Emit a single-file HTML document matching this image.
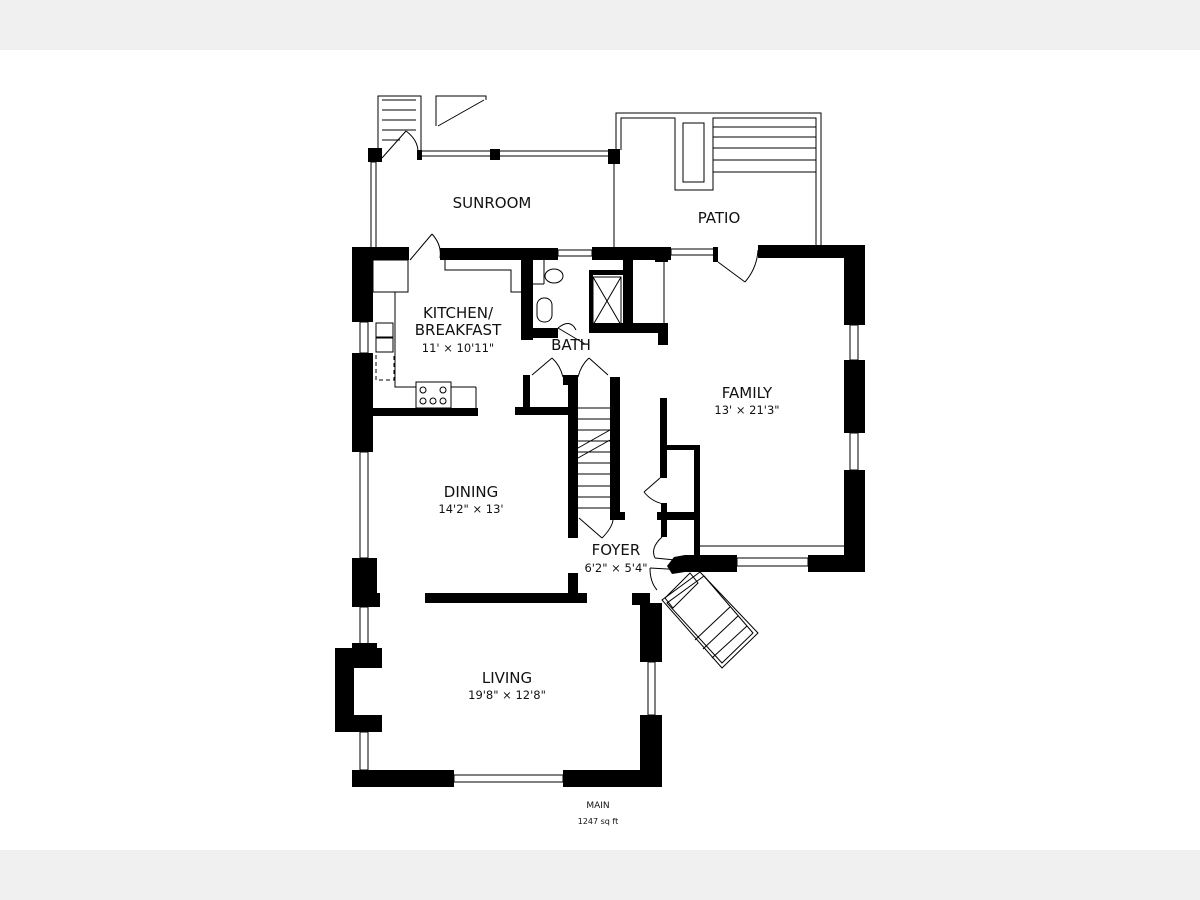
<!DOCTYPE html>
<html><head><meta charset="utf-8"><style>
html,body{margin:0;padding:0;width:1200px;height:900px;overflow:hidden;background:#fff}
svg{display:block}
text{font-family:"DejaVu Sans","Liberation Sans",sans-serif;fill:#111;text-anchor:middle}
.r{font-size:15px}
.d{font-size:11.5px}
</style></head><body>
<svg width="1200" height="900" viewBox="0 0 1200 900" xmlns="http://www.w3.org/2000/svg">
<rect x="0" y="0" width="1200" height="50" fill="#f0f0f0"/>
<rect x="0" y="850" width="1200" height="50" fill="#f0f0f0"/>

<g fill="none" stroke="#000" stroke-width="1">
 <rect x="420" y="151" width="190" height="5"/>
 <rect x="371" y="162" width="5" height="86"/>
 <line x1="614" y1="164" x2="614" y2="248"/>
 <polyline points="616,150 616,113 821,113 821,247"/>
 <polyline points="621,150 621,118 675,118 675,190 713,190 713,118 816,118 816,247"/>
 <rect x="683" y="123" width="21" height="59"/>
 <line x1="713" y1="127" x2="816" y2="127"/>
 <line x1="713" y1="137" x2="816" y2="137"/>
 <line x1="713" y1="148" x2="816" y2="148"/>
 <line x1="713" y1="160" x2="816" y2="160"/>
 <line x1="713" y1="172" x2="816" y2="172"/>
 <polyline points="378,153 378,96 421,96 421,150"/>
 <line x1="382" y1="100" x2="416" y2="100"/>
 <line x1="382" y1="110" x2="416" y2="110"/>
 <line x1="382" y1="120" x2="416" y2="120"/>
 <line x1="382" y1="130" x2="416" y2="130"/>
 <line x1="382" y1="140" x2="400" y2="140"/>
 <line x1="382" y1="158" x2="406" y2="131"/>
 <path d="M406,131 Q418,140 418,152"/>
 <polyline points="436,126 436,96 486,96 486,100"/>
 <line x1="438" y1="126" x2="484" y2="100"/>
 <rect x="558" y="250" width="34" height="6"/>
 <rect x="671" y="249" width="43" height="6"/>
 <line x1="664" y1="262" x2="664" y2="328"/>
 <rect x="360" y="322" width="8" height="31"/>
 <rect x="360" y="452" width="8" height="106"/>
 <rect x="360" y="607" width="8" height="38"/>
 <rect x="360" y="732" width="8" height="38"/>
 <rect x="454" y="775" width="109" height="7"/>
 <rect x="648" y="662" width="7" height="53"/>
 <rect x="850" y="325" width="8" height="35"/>
 <rect x="850" y="433" width="8" height="37"/>
 <rect x="737" y="558" width="71" height="8"/>
 <line x1="700" y1="546" x2="844" y2="546"/>
 <rect x="373" y="260" width="35" height="32"/>
 <polyline points="445,260 445,270 511,270 511,292 521,292"/>
 <polyline points="395,292 395,387 416,387"/>
 <line x1="451" y1="387" x2="476" y2="387"/>
 <line x1="476" y1="387" x2="476" y2="408"/>
 <rect x="416" y="382" width="35" height="26"/>
 <circle cx="423" cy="390" r="3"/><circle cx="443" cy="390" r="3"/>
 <circle cx="423" cy="401" r="3"/><circle cx="433" cy="401" r="3"/><circle cx="443" cy="401" r="3"/>
 <rect x="376" y="323" width="17" height="14"/>
 <rect x="376" y="338" width="17" height="14"/>
 <polyline points="376,355 376,380 394,380 394,355" stroke-dasharray="4,3"/>
 <ellipse cx="554" cy="276" rx="9" ry="7"/>
 <rect x="537" y="298" width="15" height="24" rx="7"/>
 <rect x="593" y="277" width="28" height="48"/>
 <line x1="593" y1="277" x2="621" y2="325"/><line x1="621" y1="277" x2="593" y2="325"/>
 <line x1="533" y1="284" x2="544" y2="284"/>
 <line x1="544" y1="260" x2="544" y2="284"/>
 <line x1="410" y1="260" x2="432" y2="234"/><path d="M432,234 Q442,245 440,258"/>
 <line x1="558" y1="328" x2="585" y2="344"/><path d="M558,328 Q570,318 576,330"/>
 <line x1="718" y1="262" x2="745" y2="282"/><path d="M745,282 Q757,268 758,250"/>
 <line x1="532" y1="375" x2="552" y2="358"/><path d="M552,358 Q560,365 563,377"/>
 <line x1="608" y1="375" x2="589" y2="358"/><path d="M589,358 Q581,365 578,377"/>
 <line x1="579" y1="518" x2="602" y2="538"/><path d="M602,538 Q612,528 613,520"/>
 <line x1="660" y1="478" x2="644" y2="492"/><path d="M644,492 Q652,502 664,504"/>
 <line x1="655" y1="558" x2="685" y2="561"/><path d="M662,537 Q650,548 655,558"/>
 <line x1="650" y1="568" x2="685" y2="570"/><path d="M650,568 Q650,582 657,590"/>
 <line x1="578" y1="408" x2="610" y2="408"/>
 <line x1="578" y1="419" x2="610" y2="419"/>
 <line x1="578" y1="430" x2="610" y2="430"/>
 <line x1="578" y1="441" x2="610" y2="441"/>
 <line x1="578" y1="452" x2="610" y2="452"/>
 <line x1="578" y1="463" x2="610" y2="463"/>
 <line x1="578" y1="474" x2="610" y2="474"/>
 <line x1="578" y1="486" x2="610" y2="486"/>
 <line x1="578" y1="497" x2="610" y2="497"/>
 <line x1="578" y1="508" x2="610" y2="508"/>
 <line x1="578" y1="448" x2="610" y2="430"/>
 <line x1="578" y1="458" x2="610" y2="440"/>
 <!-- entry stair -->
 <polygon points="700,572 758,633 722,668 662,600"/>
 <polygon points="704,576 753,633 722,663 667,603"/>
 <polygon points="665,598 690,573 698,583 673,608"/>
 <line x1="730" y1="607" x2="695" y2="640"/>
 <line x1="738" y1="616" x2="703" y2="649"/>
 <line x1="747" y1="626" x2="712" y2="658"/>
</g>

<g fill="#000">
 <rect x="368" y="148" width="14" height="14"/>
 <rect x="417" y="150" width="5" height="10"/>
 <rect x="490" y="149" width="10" height="11"/>
 <rect x="608" y="149" width="12" height="15"/>
 <rect x="352" y="247" width="57" height="13"/>
 <rect x="440" y="248" width="118" height="12"/>
 <rect x="592" y="247" width="79" height="13"/>
 <rect x="655" y="247" width="13" height="15"/>
 <rect x="713" y="247" width="5" height="15"/>
 <rect x="758" y="245" width="107" height="13"/>
 <rect x="352" y="247" width="21" height="75"/>
 <rect x="352" y="353" width="21" height="99"/>
 <rect x="352" y="558" width="25" height="49"/>
 <rect x="352" y="593" width="28" height="14"/>
 <path d="M335,648 h47 v84 h-47 z M354,668 v47 h28 v-47 z" fill-rule="evenodd"/>
 <rect x="352" y="643" width="25" height="6"/>
 <rect x="352" y="770" width="102" height="17"/>
 <rect x="563" y="770" width="99" height="17"/>
 <rect x="640" y="715" width="22" height="72"/>
 <rect x="640" y="603" width="22" height="59"/>
 <rect x="632" y="593" width="18" height="12"/>
 <rect x="844" y="245" width="21" height="80"/>
 <rect x="844" y="360" width="21" height="73"/>
 <rect x="844" y="470" width="21" height="102"/>
 <rect x="808" y="555" width="57" height="17"/>
 <rect x="685" y="555" width="52" height="17"/>
 <polygon points="685,555 685,572 672,574 667,566 674,557"/>
 <rect x="521" y="260" width="12" height="80"/>
 <rect x="533" y="328" width="25" height="10"/>
 <rect x="589" y="323" width="79" height="10"/>
 <rect x="623" y="260" width="10" height="70"/>
 <rect x="589" y="270" width="36" height="5"/>
 <rect x="589" y="270" width="4" height="60"/>
 <rect x="658" y="323" width="10" height="22"/>
 <rect x="373" y="408" width="105" height="8"/>
 <rect x="523" y="375" width="7" height="32"/>
 <rect x="515" y="407" width="63" height="8"/>
 <rect x="563" y="375" width="15" height="10"/>
 <rect x="568" y="375" width="10" height="163"/>
 <rect x="610" y="377" width="10" height="135"/>
 <rect x="610" y="512" width="15" height="8"/>
 <rect x="660" y="398" width="7" height="80"/>
 <rect x="667" y="445" width="33" height="5"/>
 <rect x="694" y="445" width="6" height="112"/>
 <rect x="657" y="512" width="38" height="8"/>
 <rect x="661" y="503" width="6" height="34"/>
 <rect x="425" y="593" width="162" height="10"/>
 <rect x="568" y="573" width="10" height="25"/>
</g>

<text class="r" x="492" y="208">SUNROOM</text>
<text class="r" x="719" y="223">PATIO</text>
<text class="r" x="458" y="318">KITCHEN/</text>
<text class="r" x="458" y="335">BREAKFAST</text>
<text class="d" x="458" y="352">11' × 10'11"</text>
<text class="r" x="571" y="350">BATH</text>
<text class="r" x="747" y="398">FAMILY</text>
<text class="d" x="747" y="414">13' × 21'3"</text>
<text class="r" x="471" y="497">DINING</text>
<text class="d" x="471" y="513">14'2" × 13'</text>
<text class="r" x="616" y="555">FOYER</text>
<text class="d" x="616" y="572">6'2" × 5'4"</text>
<text class="r" x="507" y="683">LIVING</text>
<text class="d" x="507" y="699">19'8" × 12'8"</text>
<text style="font-size:9px" x="598" y="808">MAIN</text>
<text style="font-size:8px" x="598" y="824">1247 sq ft</text>
</svg>
</body></html>
